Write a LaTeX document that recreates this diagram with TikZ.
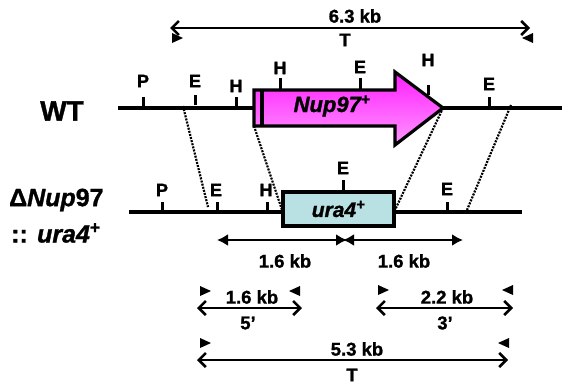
\documentclass[tikz,border=0pt]{standalone}
\usepackage{fontspec}
\setmainfont[BoldFeatures={FakeBold=1.2},BoldItalicFeatures={FakeBold=1.2}]{Liberation Sans}
\usetikzlibrary{arrows.meta}
\definecolor{nupmagenta}{RGB}{255,30,255}
\definecolor{nuppink}{RGB}{255,150,255}
\definecolor{uracyan}{RGB}{185,225,228}

\begin{document}
\begin{tikzpicture}[x=1pt,y=-1pt,
  site/.style={font=\fontsize{18}{18}\selectfont\bfseries,inner sep=0pt},
  kblab/.style={font=\fontsize{18.5}{19}\selectfont\bfseries,inner sep=0pt},
  strain/.style={font=\fontsize{25}{26}\selectfont\bfseries,inner sep=0pt,anchor=west},
  dna/.style={line width=3.8pt},
  cut/.style={line width=3pt},
  span/.style={{Straight Barb[length=7pt,width=14pt]}-{Straight Barb[length=7pt,width=14pt]},line width=2.6pt},
  frag/.style={{Latex[length=11pt,width=12pt]}-{Latex[length=11pt,width=12pt]},line width=2.6pt},
  junction/.style={dash pattern=on 2pt off 1.2pt,line width=2.2pt},
  primer/.style={fill=black}
]
\useasboundingbox (0,0) rectangle (580,386);

% TOP: 6.3 kb fragment of the wild type
\coordinate (tL) at (170,28);
\coordinate (tR) at (530,28);
\draw[span] (tL) -- (tR);
\node[kblab] (tkb) at (355,16) {6.3 kb};
\node[kblab] (tT) at (345,40) {T};
\fill[primer] (172,33) -- ++(11,5) -- ++(-11,5) -- cycle;
\fill[primer] (533,33) -- ++(-11,5) -- ++(11,5) -- cycle;

% WT locus
\node[font=\fontsize{28}{28}\selectfont\bfseries,inner sep=0pt] (wt) at (62,111) {WT};
\coordinate (wtL) at (118,108);
\coordinate (wtR) at (562,108);
\draw[dna] (wtL) -- (wtR);

% Nup97+ gene arrow
\draw[line width=3.2pt,top color=nupmagenta,bottom color=nuppink]
  (254,90) coordinate (gNW) -- (395,90) -- (395,72) -- (443,108) coordinate (gtip)
  -- (395,145) -- (395,126) -- (254,126) coordinate (gSW) -- cycle;
\draw[line width=3.6pt] (262,90) -- (262,126);
\node[font=\fontsize{22}{22}\selectfont\bfseries\itshape,inner sep=0pt] (nup) at (332,106) {Nup97\textsuperscript{+}};

% WT sites
\node[site] (wP) at (143,81) {P};
\draw[cut] (143,97) -- (143,108);
\node[site] (wE1) at (195,81) {E};
\draw[cut] (195,95) -- (195,105);
\node[site] (wH1) at (236,86) {H};
\draw[cut] (236,97) -- (236,108);
\node[site] (wH2) at (280,68) {H};
\draw[cut] (280,78) -- (280,90);
\node[site] (wE2) at (360,67) {E};
\draw[cut] (360,78) -- (360,90);
\node[site] (wH3) at (428,60) {H};
\draw[cut] (428,85) -- (428,95);
\node[site] (wE3) at (489,84) {E};
\draw[cut] (489,97) -- (489,108);

% deletion locus
\node[strain] (dNup) at (9,200) {Δ\textit{Nup}97};
\node[strain] (dura) at (11,233) {:: \textit{ura4}\textsuperscript{+}};
\coordinate (dL) at (129,212);
\coordinate (dR) at (522,212);
\draw[dna] (dL) -- (dR);
\node[draw,line width=3.2pt,fill=uracyan,minimum width=111pt,minimum height=34pt,inner sep=0pt,
  font=\fontsize{21}{21}\selectfont\bfseries\itshape] (ura) at (338.5,209) {ura4\textsuperscript{+}};

% deletion sites
\node[site] (dP) at (162,190) {P};
\draw[cut] (162,202) -- (162,212);
\node[site] (dE1) at (216,190) {E};
\draw[cut] (217,202) -- (217,212);
\node[site] (dH) at (266,190) {H};
\draw[cut] (267,202) -- (267,212);
\node[site] (dE2) at (343,168) {E};
\draw[cut] (343,180) -- (343,192);
\node[site] (dE3) at (447,189) {E};
\draw[cut] (447,202) -- (447,212);

% homologous junctions
\coordinate (j1a) at (183,106);
\coordinate (j1b) at (208,207);
\coordinate (j2b) at (282,210);
\coordinate (j3b) at (395,210);
\coordinate (j4a) at (511,105);
\coordinate (j4b) at (467,210);
\draw[junction] (j1a) -- (j1b);
\draw[junction] (gSW) -- (j2b);
\draw[junction] (gtip) -- (j3b);
\draw[junction] (j4a) -- (j4b);

% 1.6 kb fragments either side
\coordinate (fL) at (217,240);
\coordinate (fM) at (345,240);
\coordinate (fR) at (463,240);
\draw[frag] (fL) -- ([xshift=2pt]fM);
\draw[frag] ([xshift=-2pt]fM) -- (fR);
\node[kblab] (f1) at (285,261) {1.6 kb};
\node[kblab] (f2) at (404,261) {1.6 kb};

% BOTTOM: 5' and 3' products
\draw[span] (197,308) coordinate (aL) -- (302,308) coordinate (aR);
\node[kblab] (akb) at (252,297) {1.6 kb};
\node[kblab] (a5) at (248,323) {5’};
\fill[primer] (200,286) -- ++(11,5) -- ++(-11,5) -- cycle;
\fill[primer] (300,286) -- ++(-11,5) -- ++(11,5) -- cycle;

\draw[span] (376,308) coordinate (bL) -- (513,308) coordinate (bR);
\node[kblab] (bkb) at (447,297) {2.2 kb};
\node[kblab] (b3) at (445,323) {3’};
\fill[primer] (378,285) -- ++(11,5) -- ++(-11,5) -- cycle;
\fill[primer] (513,285) -- ++(-11,5) -- ++(11,5) -- cycle;

\draw[span] (197,360) coordinate (cL) -- (508,360) coordinate (cR);
\node[kblab] (ckb) at (357,349) {5.3 kb};
\node[kblab] (cT) at (352,375) {T};
\fill[primer] (200,338) -- ++(11,5) -- ++(-11,5) -- cycle;
\fill[primer] (509,338) -- ++(-11,5) -- ++(11,5) -- cycle;

\end{tikzpicture}
\end{document}
